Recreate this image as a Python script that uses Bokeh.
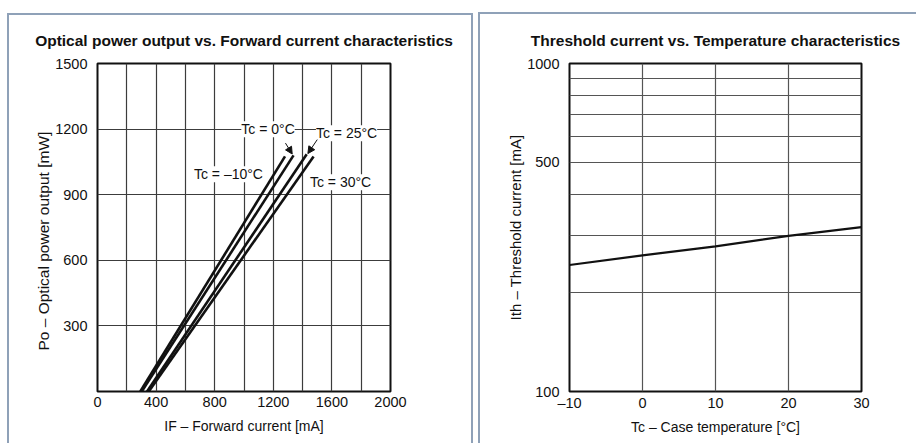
from bokeh.embed import file_html
from bokeh.layouts import row
from bokeh.models import (Arrow, BasicTickFormatter, FixedTicker, Label,
                          NormalHead, Title)
from bokeh.plotting import figure
from bokeh.resources import INLINE

FONT = "Liberation Sans"
INK = "#111111"
PANEL = "#8fa1b8"

# --- Optical power output vs. forward current (one L-I line per case temperature)
tc_names = ["Tc = –10°C", "Tc = 0°C", "Tc = 25°C", "Tc = 30°C"]
if_start_ma = [292, 302, 338, 350]      # current where the output leaves 0 mW
if_end_ma = [1280, 1338, 1428, 1475]    # current at the last plotted point
po_end_mw = [1075, 1080, 1085, 1075]    # output at the last plotted point

if_ticks = [0, 400, 800, 1200, 1600, 2000]
if_minor = [200, 600, 1000, 1400, 1800]
po_ticks = [300, 600, 900, 1200, 1500]

# --- Threshold current vs. case temperature
case_temp_c = [-10, 0, 10, 20, 30]
ith_ma = [243, 260, 277, 298, 317]
temp_ticks = [-10, 0, 10, 20, 30]
ith_ticks = [100, 500, 1000]
ith_minor = [200, 300, 400, 600, 700, 800, 900]


def bar(x, y, w, h):
    """One solid CSS background layer, used for the panel rules."""
    return f"linear-gradient({PANEL},{PANEL}) {x}px {y}px / {w}px {h}px no-repeat"


def style_axis(ax, label_size="14.5px"):
    ax.axis_line_color = None
    ax.major_tick_line_color = None
    ax.minor_tick_line_color = None
    ax.major_tick_in = 0
    ax.major_tick_out = 0
    ax.minor_tick_in = 0
    ax.minor_tick_out = 0
    ax.major_label_text_font = FONT
    ax.major_label_text_font_size = label_size
    ax.major_label_text_color = INK
    ax.axis_label_text_font = FONT
    ax.axis_label_text_font_style = "normal"
    ax.axis_label_text_color = INK


def style_title(p, text):
    p.title.text = text
    p.title.align = "center"
    p.title.text_font = FONT
    p.title.text_font_size = "15.5px"
    p.title.text_font_style = "bold"
    p.title.text_color = INK
    p.title.standoff = 29


def style_frame(p, grid_color):
    p.outline_line_color = INK
    p.outline_line_width = 2
    p.background_fill_color = "white"
    p.border_fill_color = None
    for g in (p.xgrid[0], p.ygrid[0]):
        g.grid_line_color = grid_color
        g.grid_line_width = 1.2
        g.minor_grid_line_color = grid_color
        g.minor_grid_line_width = 1.2


# ---------------- left chart ----------------
p1 = figure(width=476, height=443, x_range=(0, 2000), y_range=(0, 1500),
            output_backend="svg", toolbar_location=None,
            min_border_left=97, min_border_right=86,
            min_border_top=62, min_border_bottom=52)
style_title(p1, "Optical power output vs. Forward current characteristics")
style_frame(p1, "#3c3c3c")
p1.styles = {"background": ", ".join([bar(7, 13, 466, 2), bar(7, 13, 2, 440),
                                      bar(471, 13, 2, 440)]) + ", #ffffff"}

x_ticker = FixedTicker(ticks=if_ticks, minor_ticks=if_minor)
y_ticker = FixedTicker(ticks=po_ticks)
p1.xaxis.ticker = x_ticker
p1.xgrid.ticker = x_ticker
p1.yaxis.ticker = y_ticker
p1.ygrid.ticker = y_ticker
style_axis(p1.xaxis[0])
style_axis(p1.yaxis[0])
p1.xaxis.major_label_standoff = 5
p1.yaxis.major_label_standoff = 10
p1.xaxis.axis_label = "IF – Forward current [mA]"
p1.xaxis.axis_label_text_font_size = "14px"
p1.xaxis.axis_label_standoff = 8

# vertical axis title, started a little above the frame bottom
p1.add_layout(Title(text="Po – Optical power output [mW]", align="left", offset=41,
                    standoff=2, text_font=FONT, text_font_size="15.5px",
                    text_font_style="normal", text_color=INK), "left")

p1.multi_line(xs=[[s, e] for s, e in zip(if_start_ma, if_end_ma)],
              ys=[[0, pe] for pe in po_end_mw],
              line_color=INK, line_width=2.6)

label_kw = dict(text_align="center", text_baseline="middle", text_font=FONT,
                text_font_size="14px", text_color=INK,
                background_fill_color="white")
# name tags for the four temperature lines
p1.add_layout(Label(x=894, y=994, text=tc_names[0], **label_kw))
p1.add_layout(Label(x=1164, y=1199, text=tc_names[1], **label_kw))
p1.add_layout(Label(x=1700, y=1181, text=tc_names[2], **label_kw))
p1.add_layout(Label(x=1659, y=957, text=tc_names[3], **label_kw))

head = dict(size=7, fill_color=INK, line_color=INK, line_width=1)
p1.add_layout(Arrow(end=NormalHead(**head), x_start=1283, y_start=1136,
                    x_end=1329, y_end=1086, line_color=INK, line_width=1))
p1.add_layout(Arrow(end=NormalHead(**head), x_start=1500, y_start=1152,
                    x_end=1436, y_end=1088, line_color=INK, line_width=1))

# ---------------- right chart ----------------
p2 = figure(width=440, height=443, x_range=(-10, 30), y_range=(100, 1000),
            y_axis_type="log", output_backend="svg", toolbar_location=None,
            min_border_left=93, min_border_right=55,
            min_border_top=63, min_border_bottom=52)
style_title(p2, "Threshold current vs. Temperature characteristics")
style_frame(p2, "#555555")
p2.styles = {"background": ", ".join([bar(2, 12, 440, 2), bar(2, 12, 2, 440)])
             + ", #ffffff"}

t_ticker = FixedTicker(ticks=temp_ticks)
i_ticker = FixedTicker(ticks=ith_ticks, minor_ticks=ith_minor)
p2.xaxis.ticker = t_ticker
p2.xgrid.ticker = t_ticker
p2.yaxis.ticker = i_ticker
p2.ygrid.ticker = i_ticker
p2.yaxis.formatter = BasicTickFormatter()
style_axis(p2.xaxis[0])
style_axis(p2.yaxis[0])
p2.xaxis.major_label_overrides = {-10: "–10"}
p2.xaxis.major_label_standoff = 3
p2.yaxis.major_label_standoff = 10
p2.xaxis.axis_label = "Tc – Case temperature [°C]"
p2.xaxis.axis_label_text_font_size = "14px"
p2.xaxis.axis_label_standoff = 5
p2.yaxis.axis_label = "Ith – Threshold current [mA]"
p2.yaxis.axis_label_text_font_size = "15px"
p2.yaxis.axis_label_standoff = 0

p2.line(case_temp_c, ith_ma, line_color=INK, line_width=2.2)

layout = row(p1, p2)
open("out.html", "w").write(file_html(layout, INLINE))
